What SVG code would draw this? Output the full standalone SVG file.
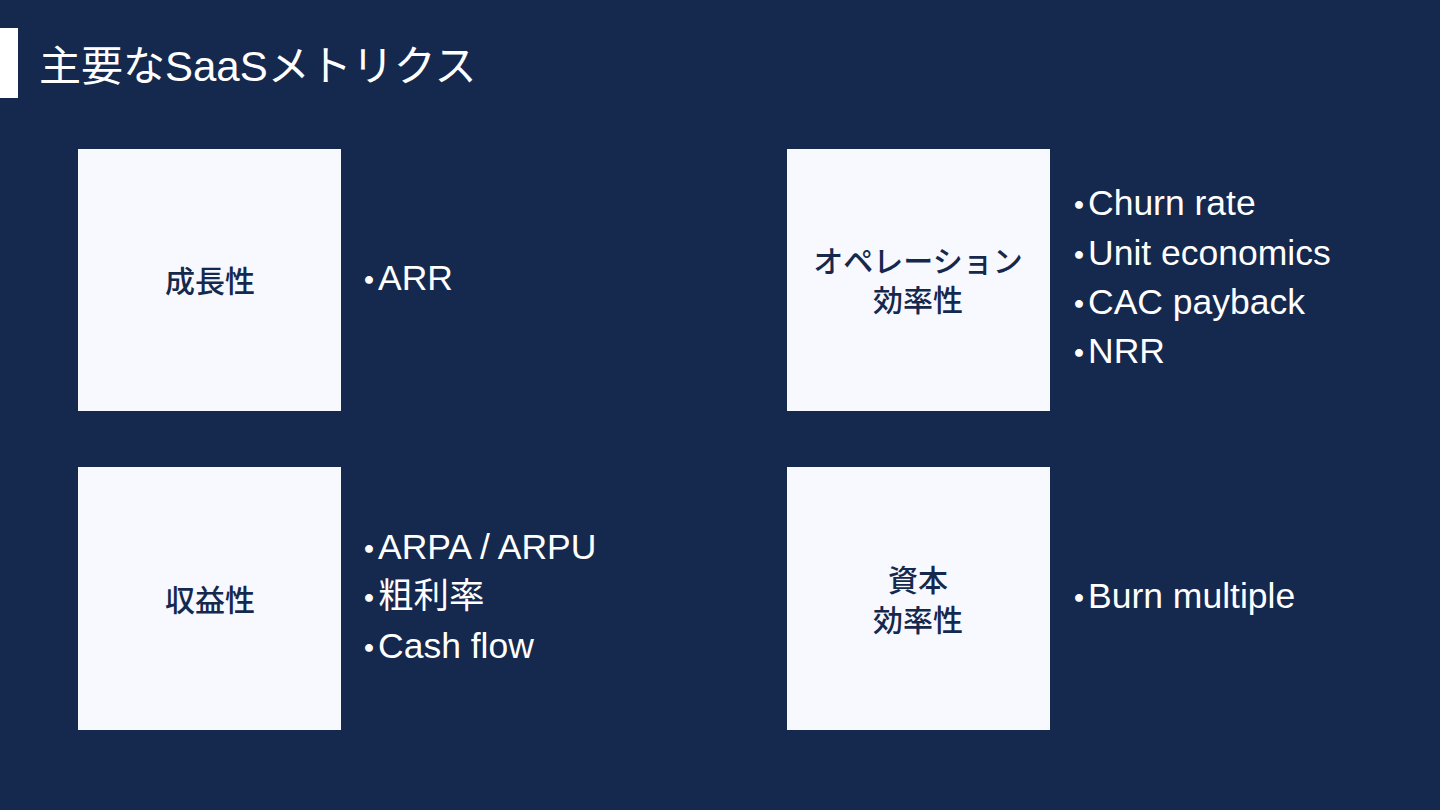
<svg xmlns="http://www.w3.org/2000/svg" width="1440" height="810" viewBox="0 0 1440 810">
<style>
.box{fill:#f7f9fe;}
.lbl{font-family:"Liberation Sans","Noto Sans CJK JP",sans-serif;font-size:30px;font-weight:500;fill:#15284d;text-anchor:middle;}
.item{font-family:"Liberation Sans","Noto Sans CJK JP",sans-serif;font-size:35.5px;fill:#ffffff;}
.title{font-family:"Liberation Sans","Noto Sans CJK JP",sans-serif;font-size:42px;fill:#ffffff;}
.dot{font-size:40px;font-weight:700;}
</style>
<rect x="0" y="0" width="1440" height="810" fill="#15284d"/>
<g id="title">
<rect x="0" y="28" width="18" height="70" fill="#ffffff"/>
<text class="title" x="39" y="81">主要なSaaSメトリクス</text>
</g>
<g id="growth">
<rect class="box" x="78" y="149" width="263" height="262"/>
<text class="lbl" x="210" y="292">成長性</text>
<text class="item" x="359" y="290"><tspan class="dot" dy="5">･</tspan><tspan dy="-5" dx="-1">ARR</tspan></text>
</g>
<g id="operation">
<rect class="box" x="787" y="149" width="263" height="262"/>
<text class="lbl" x="918" y="272">オペレーション</text>
<text class="lbl" x="918" y="311">効率性</text>
<text class="item" x="1069" y="215"><tspan class="dot" dy="5">･</tspan><tspan dy="-5" dx="-1">Churn rate</tspan></text>
<text class="item" x="1069" y="265"><tspan class="dot" dy="5">･</tspan><tspan dy="-5" dx="-1">Unit economics</tspan></text>
<text class="item" x="1069" y="314"><tspan class="dot" dy="5">･</tspan><tspan dy="-5" dx="-1">CAC payback</tspan></text>
<text class="item" x="1069" y="363"><tspan class="dot" dy="5">･</tspan><tspan dy="-5" dx="-1">NRR</tspan></text>
</g>
<g id="profitability">
<rect class="box" x="78" y="467" width="263" height="263"/>
<text class="lbl" x="210" y="611">収益性</text>
<text class="item" x="359" y="559"><tspan class="dot" dy="5">･</tspan><tspan dy="-5" dx="-1">ARPA / ARPU</tspan></text>
<text class="item" x="359" y="608"><tspan class="dot" dy="5">･</tspan><tspan dy="-5" dx="-1">粗利率</tspan></text>
<text class="item" x="359" y="658"><tspan class="dot" dy="5">･</tspan><tspan dy="-5" dx="-1">Cash flow</tspan></text>
</g>
<g id="capital">
<rect class="box" x="787" y="467" width="263" height="263"/>
<text class="lbl" x="918" y="591">資本</text>
<text class="lbl" x="918" y="631">効率性</text>
<text class="item" x="1069" y="608"><tspan class="dot" dy="5">･</tspan><tspan dy="-5" dx="-1">Burn multiple</tspan></text>
</g>
<g id="connectors"></g>
</svg>
